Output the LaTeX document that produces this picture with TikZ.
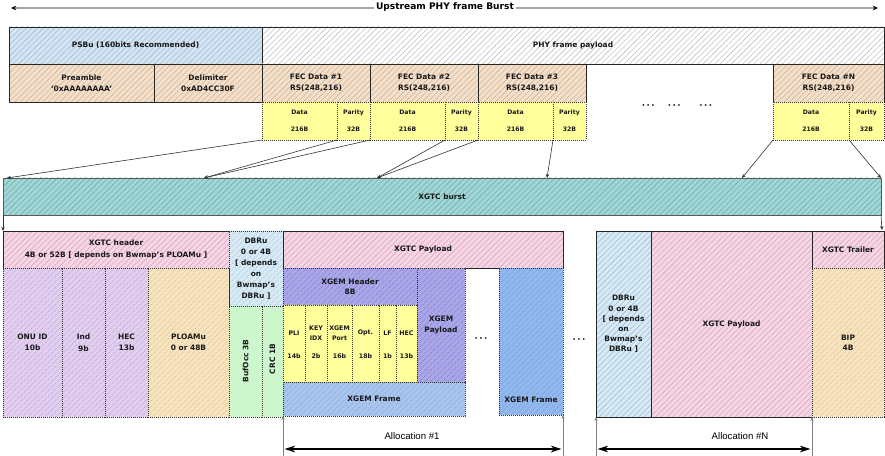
\documentclass[tikz,border=0pt]{standalone}
\usepackage{fontspec}
\setmainfont{DejaVu Sans}
\newfontfamily\alfont{Liberation Sans}
\usetikzlibrary{patterns.meta,arrows.meta}
\definecolor{cPsbu}{HTML}{D4E4F2}\definecolor{hPsbu}{HTML}{A2BED8}
\definecolor{hPhy}{HTML}{C4C4C4}
\definecolor{cPeach}{HTML}{F3E0CC}\definecolor{hPeach}{HTML}{D5B491}
\definecolor{cYel}{HTML}{FFFF9C}
\definecolor{cTeal}{HTML}{A2D6D6}\definecolor{hTeal}{HTML}{6DB1B1}
\definecolor{cPink}{HTML}{F6D5E5}\definecolor{hPink}{HTML}{DAA6C0}
\definecolor{cLav}{HTML}{E2CFEF}\definecolor{hLav}{HTML}{B59DD2}
\definecolor{cBeige}{HTML}{F7E4BE}\definecolor{hBeige}{HTML}{D6BC8C}
\definecolor{cGreen}{HTML}{CCF6CC}
\definecolor{cPur}{HTML}{AAA7E8}\definecolor{hPur}{HTML}{7B76CC}
\definecolor{cBlue}{HTML}{A9C5EE}\definecolor{hBlue}{HTML}{80A2D8}
\definecolor{cBlue2}{HTML}{92B8EE}\definecolor{hBlue2}{HTML}{7099D6}
\definecolor{cDbr}{HTML}{D8EAF5}\definecolor{hDbr}{HTML}{9EC1DA}
\newcommand\lbl{\bfseries\fontsize{5.6}{8.6}\selectfont}
\newcommand\sml{\bfseries\fontsize{4.6}{5.5}\selectfont}
\newcommand\fld{\bfseries\fontsize{4.7}{7.4}\selectfont}
\tikzset{
  box/.style={draw=black!85, line width=0.6pt, inner sep=0pt, outer sep=0pt, align=center, font=\lbl, text=black!90},
  dotb/.style={dash pattern=on 0.7pt off 0.8pt, draw=black!80},
  hatch/.style 2 args={preaction={fill=#1}, pattern={Lines[angle=45,distance=3pt,line width=0.45pt]}, pattern color=#2},
  ybox/.style={dotb, fill=cYel, font=\sml},
  txt/.style={inner sep=0pt, align=center, font=\lbl, text=black!90},
  conn/.style={draw=black!80, line width=0.45pt, -{Stealth[length=3pt,width=2.6pt]}},
  vline/.style={draw=gray, line width=0.5pt, -{Stealth[length=3pt,width=2.4pt]}},
  alloc/.style={draw=black, line width=1.4pt, {Stealth[length=8pt,width=5pt]}-{Stealth[length=8pt,width=5pt]}},
  topline/.style={draw=black!35, line width=1.3pt, {Stealth[length=4pt,width=3.5pt,color=black]}-{Stealth[length=4pt,width=3.5pt,color=black]}},
}
\newcommand\blk[7]{%
  \pgfmathsetmacro\bkw{(#4-#2)*0.75}%
  \pgfmathsetmacro\bkh{(#5-#3)*0.75}%
  \node[box,#6,minimum width=\bkw pt,minimum height=\bkh pt] (#1) at ({(#2+#4)/2},{(#3+#5)/2}) {#7};}
\begin{document}
\begin{tikzpicture}[x=0.75pt,y=-0.75pt]
\useasboundingbox[fill=white] (0,0) rectangle (885,456);
% top burst arrow
\coordinate (tl) at (11,8);
\coordinate (tr) at (878,8);
\draw[topline] (tl) -- (tr);
\node[fill=white, inner sep=1.5pt, font=\bfseries\fontsize{6.8}{8}\selectfont] (title) at (445,7.5) {Upstream PHY frame Burst};
% row 1
\blk{psbu}{9}{27}{262}{64}{hatch={cPsbu}{hPsbu}}{PSBu (160bits Recommended)}
\blk{phy}{262}{27}{884}{64}{hatch={white}{hPhy}}{PHY frame payload}
% row 2
\blk{pre}{9}{64}{154}{102}{hatch={cPeach}{hPeach}}{Preamble\\‘0xAAAAAAAA’}
\blk{del}{154}{64}{262}{102}{hatch={cPeach}{hPeach}}{Delimiter\\0xAD4CC30F}
\blk{f1}{262}{64}{370}{102}{hatch={cPeach}{hPeach}}{FEC Data \#1\\RS(248,216)}
\blk{f2}{370}{64}{478}{102}{hatch={cPeach}{hPeach}}{FEC Data \#2\\RS(248,216)}
\blk{f3}{478}{64}{586}{102}{hatch={cPeach}{hPeach}}{FEC Data \#3\\RS(248,216)}
\blk{fN}{773}{64}{884}{102}{hatch={cPeach}{hPeach}}{FEC Data \#N\\RS(248,216)}
% row 3
\blk{d1}{262}{102}{337}{140}{ybox}{Data\\[7.2pt]216B}
\blk{p1}{337}{102}{370}{140}{ybox}{Parity\\[7.2pt]32B}
\blk{d2}{370}{102}{445}{140}{ybox}{Data\\[7.2pt]216B}
\blk{p2}{445}{102}{478}{140}{ybox}{Parity\\[7.2pt]32B}
\blk{d3}{478}{102}{553}{140}{ybox}{Data\\[7.2pt]216B}
\blk{p3}{553}{102}{586}{140}{ybox}{Parity\\[7.2pt]32B}
\blk{dN}{773}{102}{849}{140}{ybox}{Data\\[7.2pt]216B}
\blk{pN}{849}{102}{884}{140}{ybox}{Parity\\[7.2pt]32B}
\node[txt, font=\bfseries\fontsize{6.5}{7}\selectfont] (topdots) at (677,107) {·\,·\,·\hspace{10pt}·\,·\,·\hspace{14pt}·\,·\,·};
% XGTC burst
\blk{burst}{3}{178}{881}{215}{draw=black!65, hatch={cTeal}{hTeal}}{XGTC burst}
\coordinate (b1) at (7,178);
\coordinate (b2) at (204,178);
\coordinate (b3) at (377,178);
\coordinate (b4) at (547,178);
\coordinate (b5) at (742,178);
\coordinate (b6) at (881,178);
\draw[conn] (d1.south west) -- (b1);
\draw[conn] (d1.south east) -- (b2);
\draw[conn] (p1.south east) -- (b2);
\draw[conn] (d2.south east) -- (b3);
\draw[conn] (p2.south east) -- (b3);
\draw[conn] (d3.south east) -- (b4);
\draw[conn] (dN.south west) -- (b5);
\draw[conn] (dN.south east) -- (b6);
% lower section
\blk{hdr}{3}{231}{229}{268}{hatch={cPink}{hPink}}{XGTC header\\4B or 52B [ depends on Bwmap’s PLOAMu ]}
\blk{dbr1}{229}{231}{283}{306}{dotb,hatch={cDbr}{hDbr},font=\bfseries\fontsize{5.6}{8.2}\selectfont}{DBRu\\0 or 4B\\{[} depends\\on\\Bwmap’s\\DBRu ]}
\blk{pay1}{283}{231}{563}{268}{hatch={cPink}{hPink}}{XGTC Payload}
\blk{onu}{3}{268}{62}{417}{dotb,hatch={cLav}{hLav}}{ONU ID\\10b}
\blk{ind}{62}{268}{105}{417}{dotb,hatch={cLav}{hLav}}{Ind\\9b}
\blk{hec}{105}{268}{148}{417}{dotb,hatch={cLav}{hLav}}{HEC\\13b}
\blk{ploam}{148}{268}{229}{417}{dotb,hatch={cBeige}{hBeige}}{PLOAMu\\0 or 48B}
\blk{buf}{229}{306}{262}{417}{dotb,fill=cGreen}{}
\blk{crc}{262}{306}{283}{417}{dotb,fill=cGreen}{}
\node[txt, rotate=90] (buft) at (245.5,361) {BufOcc 3B};
\node[txt, rotate=90] (crct) at (272.5,359) {CRC 1B};
\blk{xh}{283}{268}{417}{305}{dotb,hatch={cPur}{hPur},font=\bfseries\fontsize{5.6}{7.6}\selectfont}{XGEM Header\\8B}
\blk{xp}{417}{268}{465}{382}{dotb,hatch={cPur}{hPur},font=\bfseries\fontsize{5.6}{7.6}\selectfont}{XGEM\\Payload}
\blk{pli}{283}{305}{305}{382}{ybox}{}
\blk{key}{305}{305}{327}{382}{ybox}{}
\blk{port}{327}{305}{352}{382}{ybox}{}
\blk{opt}{352}{305}{379}{382}{ybox}{}
\blk{lf}{379}{305}{396}{382}{ybox}{}
\blk{hecx}{396}{305}{417}{382}{ybox}{}
\node[txt, font=\fld] (plil) at (294,333) {PLI};
\node[txt, font=\fld] (keyl) at (316,333) {KEY\\IDX};
\node[txt, font=\fld] (portl) at (339.5,333) {XGEM\\Port};
\node[txt, font=\fld] (optl) at (365.5,333) {Opt.};
\node[txt, font=\fld] (lfl) at (387.5,333) {LF};
\node[txt, font=\fld] (hecl) at (406.5,333) {HEC};
\node[txt, font=\fld] (pliv) at (294,356) {14b};
\node[txt, font=\fld] (keyv) at (316,356) {2b};
\node[txt, font=\fld] (portv) at (339.5,356) {16b};
\node[txt, font=\fld] (optv) at (365.5,356) {18b};
\node[txt, font=\fld] (lfv) at (387.5,356) {1b};
\node[txt, font=\fld] (hecv) at (406.5,356) {13b};
\blk{xf1}{283}{382}{465}{416}{dotb,hatch={cBlue}{hBlue}}{XGEM Frame}
\blk{xf2}{499}{268}{563}{415}{dotb,hatch={cBlue2}{hBlue2}}{}
\node[txt] (xf2t) at (531,400) {XGEM Frame};
\node[txt, font=\bfseries\fontsize{6.5}{7}\selectfont] (dots1) at (481,340) {·\,·\,·};
\node[txt, font=\bfseries\fontsize{6.5}{7}\selectfont] (dots2) at (579,341) {·\,·\,·};
% right block
\blk{dbr2}{596}{231}{651}{417}{hatch={cDbr}{hDbr},font=\bfseries\fontsize{5.6}{7.6}\selectfont}{DBRu\\0 or 4B\\{[} depends\\on\\Bwmap’s\\DBRu ]}
\blk{pay2}{651}{231}{812}{417}{hatch={cPink}{hPink}}{XGTC Payload}
\blk{trl}{812}{231}{884}{268}{hatch={cPink}{hPink}}{XGTC Trailer}
\blk{bip}{812}{268}{884}{417}{dotb,hatch={cBeige}{hBeige},font=\bfseries\fontsize{5.6}{7.6}\selectfont}{BIP\\4B}
% burst to lower
\coordinate (rdown) at (882,230);
\draw[conn] (burst.south west) -- (hdr.north west);
\draw[conn] (burst.south east) -- (rdown);
% allocations
\coordinate (v1) at (283,456);
\coordinate (v2) at (563,456);
\coordinate (v3) at (596,456);
\coordinate (v4) at (812,456);
\draw[vline] (v1) -- (xf1.south west);
\draw[vline] (v2) -- (xf2.south east);
\draw[vline] (v3) -- (dbr2.south west);
\draw[vline] (v4) -- (pay2.south east);
\coordinate (a1) at (284.5,449);
\coordinate (a2) at (561.5,449);
\coordinate (a3) at (597.5,449);
\coordinate (a4) at (810.5,449);
\draw[alloc] (a1) -- (a2);
\draw[alloc] (a3) -- (a4);
\node[inner sep=0pt, font=\alfont\fontsize{7.2}{8}\selectfont] (al1) at (412,436) {Allocation \#1};
\node[inner sep=0pt, font=\alfont\fontsize{7.2}{8}\selectfont] (alN) at (740,436) {Allocation \#N};
\end{tikzpicture}
\end{document}
